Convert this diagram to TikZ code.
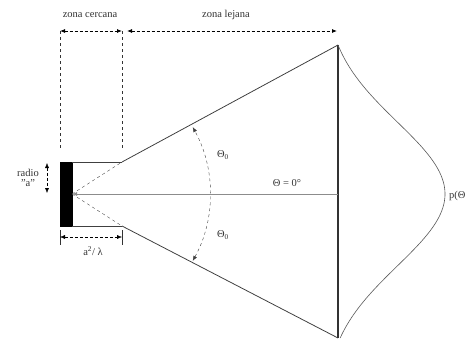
\documentclass[tikz,border=0pt]{standalone}
\usepackage{fontspec}
\setmainfont{Liberation Serif}
\usetikzlibrary{arrows.meta,calc}
\begin{document}
\begin{tikzpicture}[x=1pt,y=-1pt,
  lbl/.style={text=black!80,font=\fontsize{10.5}{11.5}\selectfont,inner sep=0pt},
  dimline/.style={densely dashed,thick,{Latex[length=5pt,width=4pt]}-{Latex[length=5pt,width=4pt]}},
  guide/.style={dash pattern=on 3pt off 3pt,thin,black!80},
  cone/.style={black!75,line width=0.8pt},
  axis/.style={black!45,line width=0.9pt},
  bar/.style={fill=black,draw=black}]
\useasboundingbox (0,0) rectangle (467,340);
% coordinates
\coordinate (c) at (72,194);
\coordinate (bu) at (72,162);
\coordinate (bl) at (72,226);
\coordinate (tu) at (122,162);
\coordinate (tl) at (122,226);
\coordinate (ft) at (338,45);
\coordinate (fb) at (338,338);
\coordinate (fm) at (338,194);
% top dimension
\coordinate (zl) at (60,31);
\coordinate (zm) at (122,31);
\coordinate (zm2) at (127,31);
\coordinate (zr) at (337,31);
\coordinate (gl) at (60,150);
\coordinate (gr) at (122,150);
\draw[guide] (zl) -- (gl);
\draw[guide] (zm) -- (gr);
\draw[dimline] (zl) -- (zm);
\draw[dimline] (zm2) -- (zr);
\node[lbl] (zc) at (90,15) {zona cercana};
\node[lbl] (zlj) at (226,15) {zona lejana};
% bar
\node[bar,minimum width=12pt,minimum height=64pt,inner sep=0pt] (b) at (66,194) {};
% horizontal thin lines
\draw[cone,line width=0.6pt] (bu) -- (tu);
\draw[cone,line width=0.6pt] (bl) -- (tl);
% dashed lines from center
\draw[dashed,black!70] (c) -- (tu);
\draw[dashed,black!70] (c) -- (tl);
% cone
\draw[cone] (tu) -- (ft);
\draw[cone] (tl) -- (fb);
% far vertical line
\draw[black!80,line width=1.6pt] (ft) -- (fb);
% axis
\draw[axis,-{Latex[length=5pt,width=4pt]}] (fm) -- (c);
% arc
\draw[dashed,black!75,{Latex[length=5pt,width=4pt]}-{Latex[length=5pt,width=4pt]}] ($(c)+(29:138)$) arc (29:-29:138);
\node[lbl] (t1) at (223,155) {Θ\textsubscript{0}};
\node[lbl] (t2) at (223,235) {Θ\textsubscript{0}};
\node[lbl] (t0) at (287,183) {Θ = 0°};
% distribution
\draw[black!65,line width=0.6pt] plot[domain=-149:144,samples=100,smooth]
  ({338+107*max(0,(exp(-0.5*(\x/72)^2)-0.1175)/0.8825)},{194+\x});
\node[lbl,anchor=west] (p) at (449,196) {p(Θ};
% radio
\node[lbl,align=center] (r) at (28,178) {radio\\[-1pt]"a"};
\coordinate (ra) at (47,163);
\coordinate (rb) at (47,193);
\draw[dimline,thin] (ra) -- (rb);
% a^2/lambda
\coordinate (d1) at (60,237);
\coordinate (d2) at (122,237);
\draw[black!80] (60,230) -- (60,245);
\draw[black!80] (122,230) -- (122,245);
\draw[dimline,thin] (d1) -- (d2);
\node[lbl] (al) at (93,251) {a\textsuperscript{2}/ λ};
\end{tikzpicture}
\end{document}
